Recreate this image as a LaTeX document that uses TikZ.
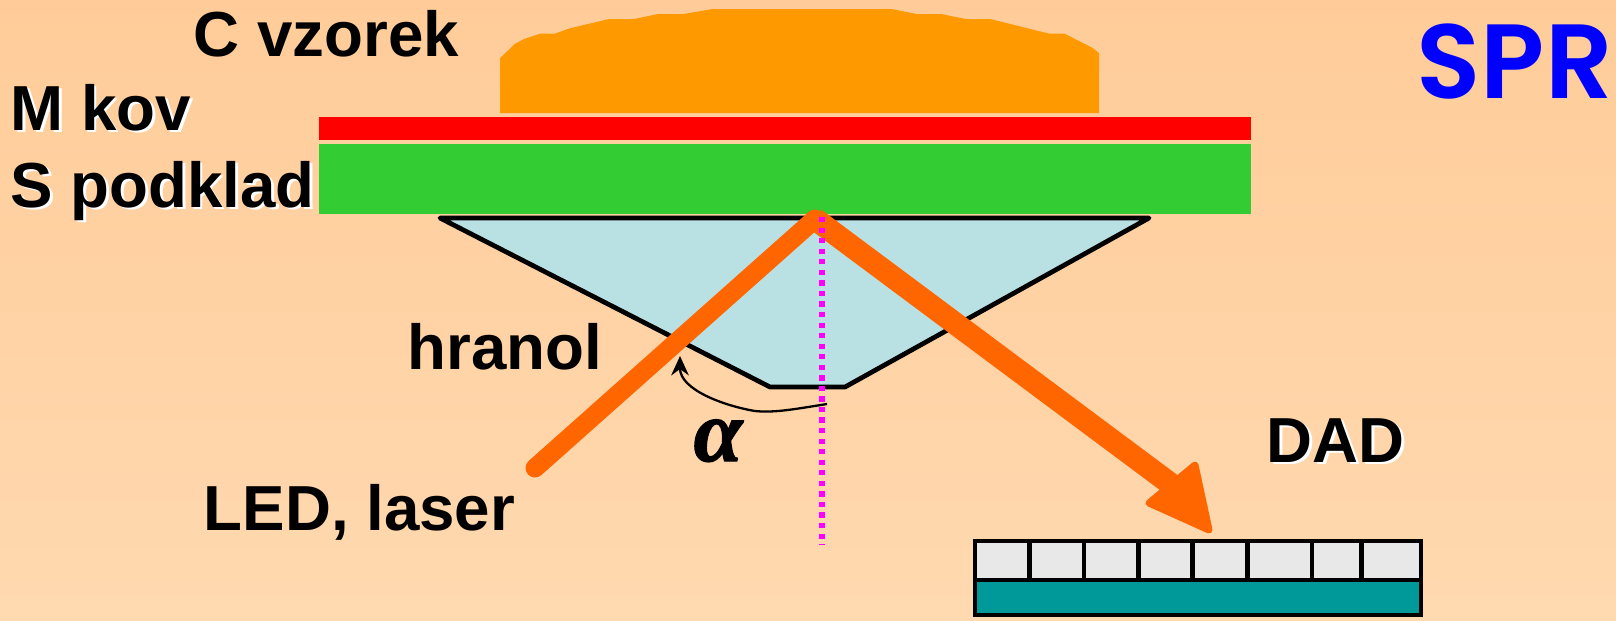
\documentclass[tikz,border=0pt]{standalone}
\usepackage{fontspec}
\usetikzlibrary{arrows.meta}
\setmainfont{Liberation Sans}
\newfontfamily\sprfont{Poppins SemiBold}
\newfontfamily\alphafont[FakeBold=1.5]{Liberation Serif}
\definecolor{bgtop}{HTML}{FFCC99}
\definecolor{bgbot}{HTML}{FFD9B0}
\definecolor{vzorekc}{HTML}{FF9900}
\definecolor{podkladc}{HTML}{33CC33}
\definecolor{hranolc}{HTML}{B9E0E3}
\definecolor{beamc}{HTML}{FF6600}
\definecolor{normalc}{HTML}{FF00FF}
\definecolor{cellc}{HTML}{E8E8E8}
\definecolor{dadc}{HTML}{009999}
\newcommand{\shadowed}[1]{\rlap{\kern0.7pt\raisebox{-0.7pt}{\color{white}#1}}#1}
\tikzset{
  lbl/.style={anchor=base west,inner sep=0pt,font=\bfseries\fontsize{18.1}{20}\selectfont},
  beam/.style={draw=beamc,line cap=round,line join=round},
  cellbox/.style={draw=black,fill=cellc,line width=1.35pt},
}
\begin{document}
\begin{tikzpicture}[x=0.01cm,y=-0.01cm,line join=miter]
  \useasboundingbox (0,0) rectangle (1616,620);
  \shade[top color=bgtop,bottom color=bgbot] (0,0) rectangle (1616,620);

  \coordinate (LED) at (535,468);
  \coordinate (Apex) at (815,219);
  \coordinate (Head) at (1172,485);

  % vrstvy
  \fill[vzorekc] (500,58.3)--(514.7,44)--(524.1,39)--(540,33.7)--(554.7,33.7)--(569.8,28.3)
    --(609,19)--(634.3,19)--(658,14)--(683.3,14)--(712.7,9)--(891.4,9)--(916.7,14)
    --(941.2,14)--(965.7,19)--(990.2,19)--(1049.4,33.7)--(1064.5,33.7)--(1092.2,47.7)
    --(1099.2,53.3)--(1099.2,113)--(500,113)--cycle;
  \fill[red] (319,117) rectangle (1251,140);
  \fill[podkladc] (319,144) rectangle (1251,214);

  % hranol
  \draw[fill=hranolc,line width=1.35pt,line join=round] (440,218)--(1149,218)--(845,387)--(770,387)--cycle;

  % paprsky
  \draw[beam,line width=5.4pt] (LED)--(Apex);
  \draw[beam,line width=6.4pt,line cap=butt] (Apex)--(Head);
  \filldraw[beam,fill=beamc,line width=2pt] (1209,530)--(1195,465)--(1149,503)--cycle;
  \draw[normalc,line width=1.5pt,dash pattern=on 1.5pt off 1.5pt] (822,217)--(822,545);

  % uhel
  \draw[line width=0.65pt,-{Stealth[length=5.5pt,width=5pt]}] (827,404)
    .. controls (795,409) and (775,413) .. (755,411)
    .. controls (725,406) and (680,390) .. (680,356);

  % DAD
  \foreach \xa/\xb in {975/1029.3,1029.3/1084,1084/1138.7,1138.7/1192.7,1192.7/1247.3,1247.3/1312,1312/1361.3,1361.3/1421}
    \draw[cellbox] (\xa,541) rectangle (\xb,580);
  \draw[cellbox,fill=dadc] (975,580) rectangle (1421,615);

  \node[lbl] (vzorek) at (193,56) {C vzorek};
  \node[lbl] (kov) at (10,130.5) {\shadowed{M kov}};
  \node[lbl] (podklad) at (10,207) {\shadowed{S podklad}};
  \node[lbl] (hranol) at (407,369) {hranol};
  \node[lbl] (led) at (203,530) {LED, laser};
  \node[lbl] (dad) at (1266,462) {\shadowed{DAD}};
  \node[anchor=base west,inner sep=0pt,font=\alphafont\bfseries\itshape\fontsize{25}{29}\selectfont] (alpha) at (693,461) {α};
  \node[anchor=base west,inner sep=0pt,text=blue,font=\sprfont\fontsize{30}{34}\selectfont] (spr) at (1416,98) {SPR};
\end{tikzpicture}
\end{document}
